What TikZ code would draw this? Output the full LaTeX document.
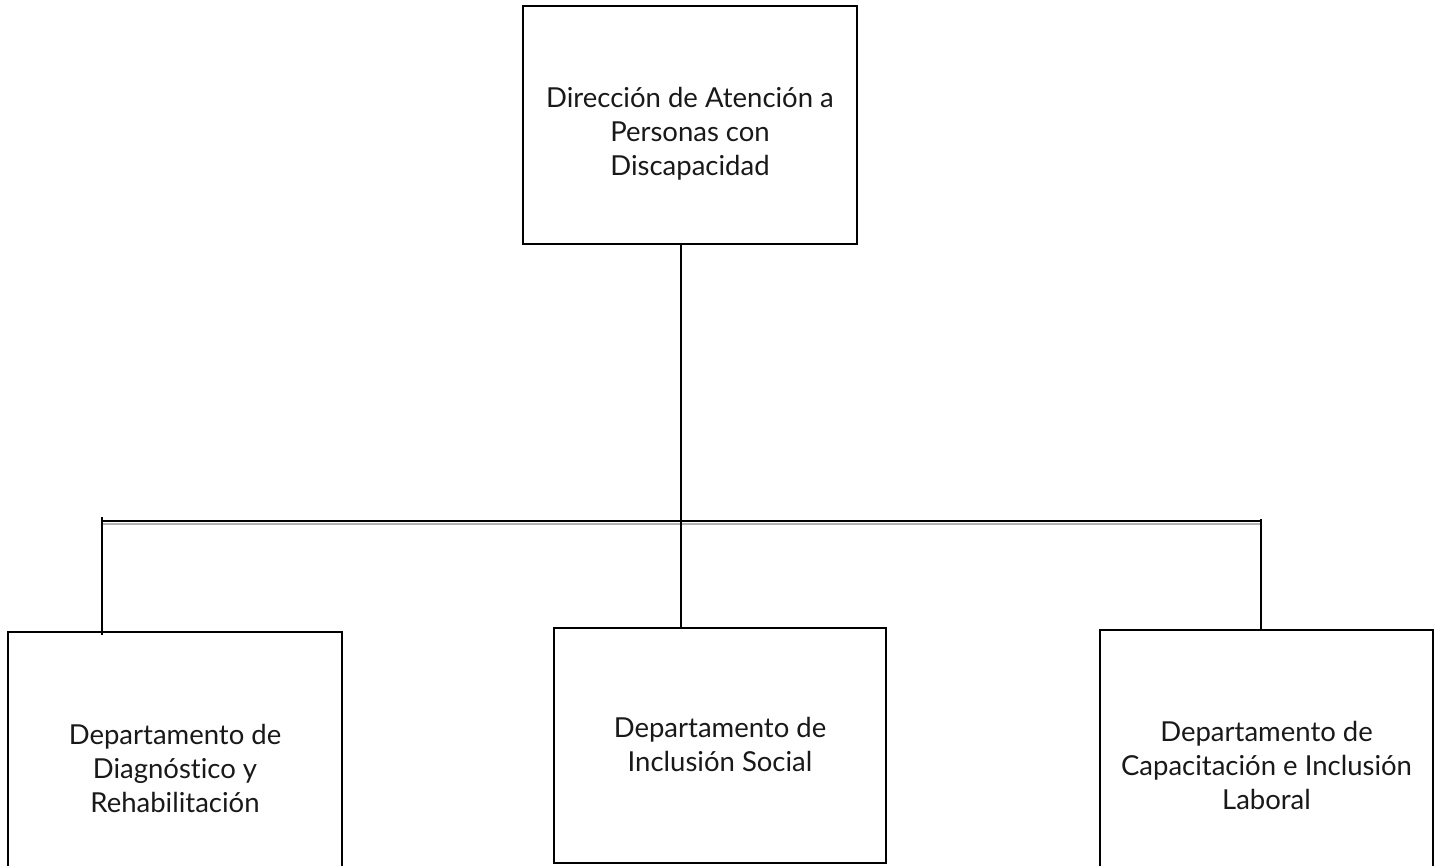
\documentclass[tikz,border=0pt]{standalone}
\usepackage{fontspec}
\setmainfont{Lato}[Ligatures=NoCommon]
\begin{document}
\begin{tikzpicture}[x=1pt,y=-1pt,
  box/.style={draw=black, line width=1.3pt, rectangle, inner sep=0pt},
  lbl/.style={inner sep=0pt, align=center, font=\fontsize{27.5}{34}\selectfont, text=black!90},
  conn/.style={draw=black, line width=1.3pt},
  connlite/.style={draw=black!30, line width=1.3pt}]
\useasboundingbox (0,0) rectangle (1435,865);
\clip (0,0) rectangle (1435,865);
\fill[white] (0,0) rectangle (1435,865);
\node[box, minimum width=334, minimum height=238] (top) at (690,125) {};
\node[lbl] (toplbl) at ([yshift=-9pt]top.center)
  {Dirección de Atención a\\Personas con\\Discapacidad};
\node[box, minimum width=334, minimum height=272] (left) at (175,768) {};
\node[lbl] (leftlbl) at (left.center)
  {Departamento de\\Diagnóstico y\\Rehabilitación};
\node[box, minimum width=332, minimum height=235] (mid) at (720,745.5) {};
\node[lbl] (midlbl) at ([yshift=1pt]mid.center)
  {Departamento de\\Inclusión Social};
\node[box, minimum width=333, minimum height=270] (right) at (1266.5,765) {};
\node[lbl] (rightlbl) at (right.center)
  {Departamento de\\Capacitación e Inclusión\\Laboral};
\coordinate (jl) at (102,521);
\coordinate (jc) at (681,521);
\coordinate (jr) at (1261,521);
\coordinate (jlt) at (102,517);
\draw[connlite] ([yshift=-3pt]jl) -- ([yshift=-3pt]jr);
\draw[conn] (jl) -- (jr);
\draw[conn] (top.south -| jc) -- (mid.north -| jc);
\draw[conn] (jlt) -- ([yshift=-4pt]left.north -| jl);
\draw[conn] ([yshift=2pt]jr) -- (right.north -| jr);
\end{tikzpicture}
\end{document}
